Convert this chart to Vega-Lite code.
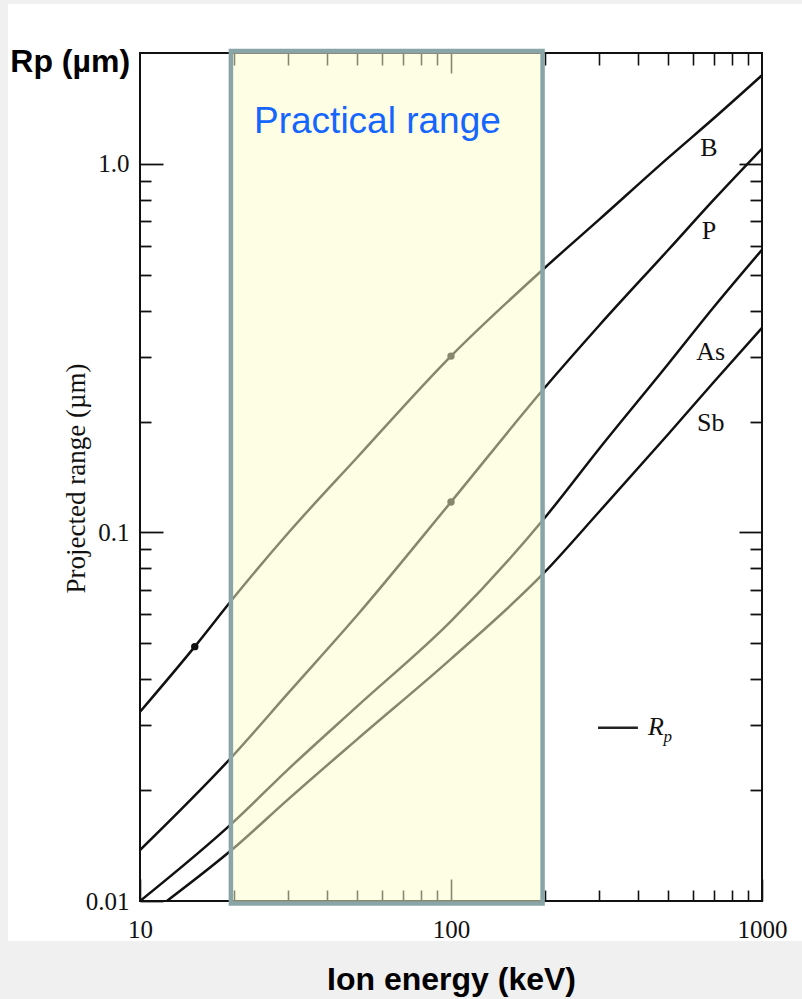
{
  "$schema": "https://vega.github.io/schema/vega-lite/v6.json",
  "width": 622,
  "height": 848,
  "autosize": {"type": "none"},
  "padding": {"left": 140, "top": 53, "right": 40, "bottom": 98},
  "background": "white",
  "config": {
    "view": {"stroke": "#111", "strokeWidth": 2},
    "axis": {
      "domain": false, "grid": false, "labelFlush": false, "labelOverlap": false,
      "tickColor": "#111", "labelFont": "Liberation Serif", "labelFontSize": 25, "labelColor": "#111"
    }
  },
  "datasets": {
    "curves": [
      {"energy": 10, "rp": 0.0326, "ion": "B"}, {"energy": 15, "rp": 0.049, "ion": "B"}, {"energy": 20, "rp": 0.0665, "ion": "B"},
      {"energy": 30, "rp": 0.0998, "ion": "B"}, {"energy": 50, "rp": 0.160, "ion": "B"}, {"energy": 100, "rp": 0.301, "ion": "B"},
      {"energy": 200, "rp": 0.522, "ion": "B"}, {"energy": 300, "rp": 0.707, "ion": "B"}, {"energy": 500, "rp": 1.04, "ion": "B"},
      {"energy": 700, "rp": 1.33, "ion": "B"}, {"energy": 1000, "rp": 1.74, "ion": "B"},
      {"energy": 10, "rp": 0.01375, "ion": "P"}, {"energy": 20, "rp": 0.0249, "ion": "P"}, {"energy": 30, "rp": 0.0367, "ion": "P"},
      {"energy": 50, "rp": 0.0597, "ion": "P"}, {"energy": 100, "rp": 0.121, "ion": "P"}, {"energy": 200, "rp": 0.247, "ion": "P"},
      {"energy": 300, "rp": 0.365, "ion": "P"}, {"energy": 500, "rp": 0.585, "ion": "P"}, {"energy": 700, "rp": 0.80, "ion": "P"},
      {"energy": 1000, "rp": 1.10, "ion": "P"},
      {"energy": 10, "rp": 0.0100, "ion": "As"}, {"energy": 20, "rp": 0.0164, "ion": "As"}, {"energy": 30, "rp": 0.0228, "ion": "As"},
      {"energy": 50, "rp": 0.0338, "ion": "As"}, {"energy": 100, "rp": 0.0575, "ion": "As"}, {"energy": 200, "rp": 0.1095, "ion": "As"},
      {"energy": 300, "rp": 0.169, "ion": "As"}, {"energy": 500, "rp": 0.287, "ion": "As"}, {"energy": 700, "rp": 0.409, "ion": "As"},
      {"energy": 1000, "rp": 0.585, "ion": "As"},
      {"energy": 12.2, "rp": 0.0100, "ion": "Sb"}, {"energy": 20, "rp": 0.0139, "ion": "Sb"}, {"energy": 30, "rp": 0.0189, "ion": "Sb"},
      {"energy": 50, "rp": 0.0275, "ion": "Sb"}, {"energy": 100, "rp": 0.0454, "ion": "Sb"}, {"energy": 200, "rp": 0.078, "ion": "Sb"},
      {"energy": 300, "rp": 0.114, "ion": "Sb"}, {"energy": 500, "rp": 0.185, "ion": "Sb"}, {"energy": 700, "rp": 0.256, "ion": "Sb"},
      {"energy": 1000, "rp": 0.359, "ion": "Sb"}
    ],
    "dots": [
      {"energy": 15, "rp": 0.049, "ion": "B"},
      {"energy": 100, "rp": 0.301, "ion": "B"},
      {"energy": 100, "rp": 0.121, "ion": "P"}
    ],
    "labels": [
      {"energy": 675, "rp": 1.105, "ion": "B"},
      {"energy": 675, "rp": 0.658, "ion": "P"},
      {"energy": 684, "rp": 0.309, "ion": "As"},
      {"energy": 684, "rp": 0.198, "ion": "Sb"}
    ]
  },
  "resolve": {"axis": {"x": "independent", "y": "independent"}},
  "layer": [
    {
      "data": {"values": [{}]},
      "mark": {"type": "rect", "fill": "#f0f0f0"},
      "encoding": {
        "x": {"datum": 1, "type": "quantitative", "scale": {"type": "log", "domain": [10, 1000], "nice": false}, "axis": null},
        "x2": {"datum": 100000},
        "y": {"datum": 0.00001, "type": "quantitative", "scale": {"type": "log", "domain": [0.01, 2.0], "nice": false}, "axis": null},
        "y2": {"datum": 0.00779}
      }
    },
    {
      "data": {"values": [{}]},
      "mark": {"type": "rect", "fill": "#f0f0f0"},
      "encoding": {
        "x": {"datum": 1, "type": "quantitative", "scale": {"type": "log", "domain": [10, 1000], "nice": false}, "axis": null},
        "x2": {"datum": 3.763},
        "y": {"datum": 0.00001, "type": "quantitative", "scale": {"type": "log", "domain": [0.01, 2.0], "nice": false}, "axis": null},
        "y2": {"datum": 100}
      }
    },
    {
      "data": {"values": [{}]},
      "mark": {"type": "rect", "fill": "#f0f0f0"},
      "encoding": {
        "x": {"datum": 1, "type": "quantitative", "scale": {"type": "log", "domain": [10, 1000], "nice": false}, "axis": null},
        "x2": {"datum": 100000},
        "y": {"datum": 2.718, "type": "quantitative", "scale": {"type": "log", "domain": [0.01, 2.0], "nice": false}, "axis": null},
        "y2": {"datum": 100}
      }
    },
    {
      "data": {"name": "curves"},
      "mark": {"type": "line", "color": "#111", "strokeWidth": 2.5, "clip": true, "interpolate": "monotone"},
      "encoding": {
        "x": {
          "field": "energy", "type": "quantitative",
          "scale": {"type": "log", "domain": [10, 1000], "nice": false},
          "axis": {
            "orient": "bottom", "title": null,
            "values": [10, 20, 30, 40, 50, 60, 70, 80, 90, 100, 200, 300, 400, 500, 600, 700, 800, 900, 1000],
            "labelExpr": "datum.value == 10 ? '10' : datum.value == 100 ? '100' : datum.value == 1000 ? '1000' : ''",
            "labelFontSize": 25,
            "tickSize": {"condition": {"test": "datum.value == 10 || datum.value == 100 || datum.value == 1000", "value": -22}, "value": -11},
            "tickWidth": 1.6,
            "labelPadding": 50, "labelBaseline": "middle"
          }
        },
        "y": {
          "field": "rp", "type": "quantitative",
          "scale": {"type": "log", "domain": [0.01, 2.0], "nice": false},
          "axis": {
            "orient": "left",
            "title": "Projected range (µm)",
            "titleFont": "Liberation Serif", "titleFontSize": 27, "titleFontWeight": "normal", "titleColor": "#111",
            "titleAngle": 270, "titleX": -64, "titleY": 425, "titleAlign": "center", "titleBaseline": "middle",
            "values": [0.01, 0.02, 0.03, 0.04, 0.05, 0.06, 0.07, 0.08, 0.09, 0.1, 0.2, 0.3, 0.4, 0.5, 0.6, 0.7, 0.8, 0.9, 1],
            "labelExpr": "datum.value == 1 ? '1.0' : datum.value == 0.1 ? '0.1' : datum.value == 0.01 ? '0.01' : ''",
            "labelFontSize": 25,
            "tickSize": {"condition": {"test": "datum.value == 1 || datum.value == 0.1 || datum.value == 0.01", "value": -23}, "value": -11},
            "tickWidth": 1.8,
            "labelPadding": 34
          }
        },
        "detail": {"field": "ion"}
      }
    },
    {
      "data": {"name": "dots"},
      "mark": {"type": "point", "shape": "circle", "filled": true, "color": "#111", "size": 55, "opacity": 1},
      "encoding": {
        "x": {"field": "energy", "type": "quantitative", "scale": {"type": "log", "domain": [10, 1000], "nice": false}, "axis": null},
        "y": {"field": "rp", "type": "quantitative", "scale": {"type": "log", "domain": [0.01, 2.0], "nice": false}, "axis": null}
      }
    },
    {
      "data": {"values": [{}]},
      "mark": {"type": "rect", "fill": "#fdfdca", "fillOpacity": 0.5, "stroke": "#89a5a7", "strokeWidth": 4.5},
      "encoding": {
        "x": {
          "datum": 19.6, "type": "quantitative",
          "scale": {"type": "log", "domain": [10, 1000], "nice": false},
          "axis": {
            "orient": "top", "title": null, "labels": false,
            "values": [20, 30, 40, 50, 60, 70, 80, 90, 100, 200, 300, 400, 500, 600, 700, 800, 900],
            "tickSize": {"condition": {"test": "datum.value == 100", "value": -20}, "value": -12},
            "tickWidth": 1.6
          }
        },
        "x2": {"datum": 197},
        "y": {
          "datum": 0.00985, "type": "quantitative",
          "scale": {"type": "log", "domain": [0.01, 2.0], "nice": false},
          "axis": {
            "orient": "right", "title": null, "labels": false,
            "values": [0.02, 0.03, 0.04, 0.05, 0.06, 0.07, 0.08, 0.09, 0.1, 0.2, 0.3, 0.4, 0.5, 0.6, 0.7, 0.8, 0.9, 1],
            "tickSize": {"condition": {"test": "datum.value == 1 || datum.value == 0.1", "value": -23}, "value": -12},
            "tickWidth": 1.8
          }
        },
        "y2": {"datum": 2.026}
      }
    },
    {
      "data": {"name": "labels"},
      "mark": {"type": "text", "font": "Liberation Serif", "fontSize": 26, "color": "#111", "align": "center", "baseline": "middle"},
      "encoding": {
        "x": {"field": "energy", "type": "quantitative", "scale": {"type": "log", "domain": [10, 1000], "nice": false}, "axis": null},
        "y": {"field": "rp", "type": "quantitative", "scale": {"type": "log", "domain": [0.01, 2.0], "nice": false}, "axis": null},
        "text": {"field": "ion"}
      }
    },
    {
      "data": {"values": [{}]},
      "mark": {"type": "rule", "color": "#222", "strokeWidth": 2.5},
      "encoding": {
        "x": {"datum": 297, "type": "quantitative", "scale": {"type": "log", "domain": [10, 1000], "nice": false}, "axis": null},
        "x2": {"datum": 399},
        "y": {"datum": 0.0295, "type": "quantitative", "scale": {"type": "log", "domain": [0.01, 2.0], "nice": false}, "axis": null}
      }
    },
    {
      "data": {"values": [{"t": "R"}]},
      "mark": {"type": "text", "font": "Liberation Serif", "fontStyle": "italic", "fontSize": 26, "color": "#111", "align": "left", "baseline": "alphabetic"},
      "encoding": {
        "x": {"datum": 430, "type": "quantitative", "scale": {"type": "log", "domain": [10, 1000], "nice": false}, "axis": null},
        "y": {"datum": 0.0282, "type": "quantitative", "scale": {"type": "log", "domain": [0.01, 2.0], "nice": false}, "axis": null},
        "text": {"field": "t"}
      }
    },
    {
      "data": {"values": [{"t": "p"}]},
      "mark": {"type": "text", "font": "Liberation Serif", "fontStyle": "italic", "fontSize": 17, "color": "#111", "align": "left", "baseline": "alphabetic"},
      "encoding": {
        "x": {"datum": 482, "type": "quantitative", "scale": {"type": "log", "domain": [10, 1000], "nice": false}, "axis": null},
        "y": {"datum": 0.027, "type": "quantitative", "scale": {"type": "log", "domain": [0.01, 2.0], "nice": false}, "axis": null},
        "text": {"field": "t"}
      }
    },
    {
      "data": {"values": [{"t": "Practical range"}]},
      "mark": {"type": "text", "font": "Liberation Sans", "fontSize": 37, "color": "#1565ff", "align": "center", "baseline": "alphabetic"},
      "encoding": {
        "x": {"datum": 58, "type": "quantitative", "scale": {"type": "log", "domain": [10, 1000], "nice": false}, "axis": null},
        "y": {"datum": 1.214, "type": "quantitative", "scale": {"type": "log", "domain": [0.01, 2.0], "nice": false}, "axis": null},
        "text": {"field": "t"}
      }
    },
    {
      "data": {"values": [{"t": "Rp (µm)"}]},
      "mark": {"type": "text", "font": "Liberation Sans", "fontWeight": "bold", "fontSize": 32, "color": "#000", "align": "right", "baseline": "alphabetic"},
      "encoding": {
        "x": {"datum": 9.29, "type": "quantitative", "scale": {"type": "log", "domain": [10, 1000], "nice": false}, "axis": null},
        "y": {"datum": 1.777, "type": "quantitative", "scale": {"type": "log", "domain": [0.01, 2.0], "nice": false}, "axis": null},
        "text": {"field": "t"}
      }
    },
    {
      "data": {"values": [{"t": "Ion energy (keV)"}]},
      "mark": {"type": "text", "font": "Liberation Sans", "fontWeight": "bold", "fontSize": 32, "color": "#000", "align": "center", "baseline": "alphabetic"},
      "encoding": {
        "x": {"datum": 100.4, "type": "quantitative", "scale": {"type": "log", "domain": [10, 1000], "nice": false}, "axis": null},
        "y": {"datum": 0.00574, "type": "quantitative", "scale": {"type": "log", "domain": [0.01, 2.0], "nice": false}, "axis": null},
        "text": {"field": "t"}
      }
    }
  ]
}
